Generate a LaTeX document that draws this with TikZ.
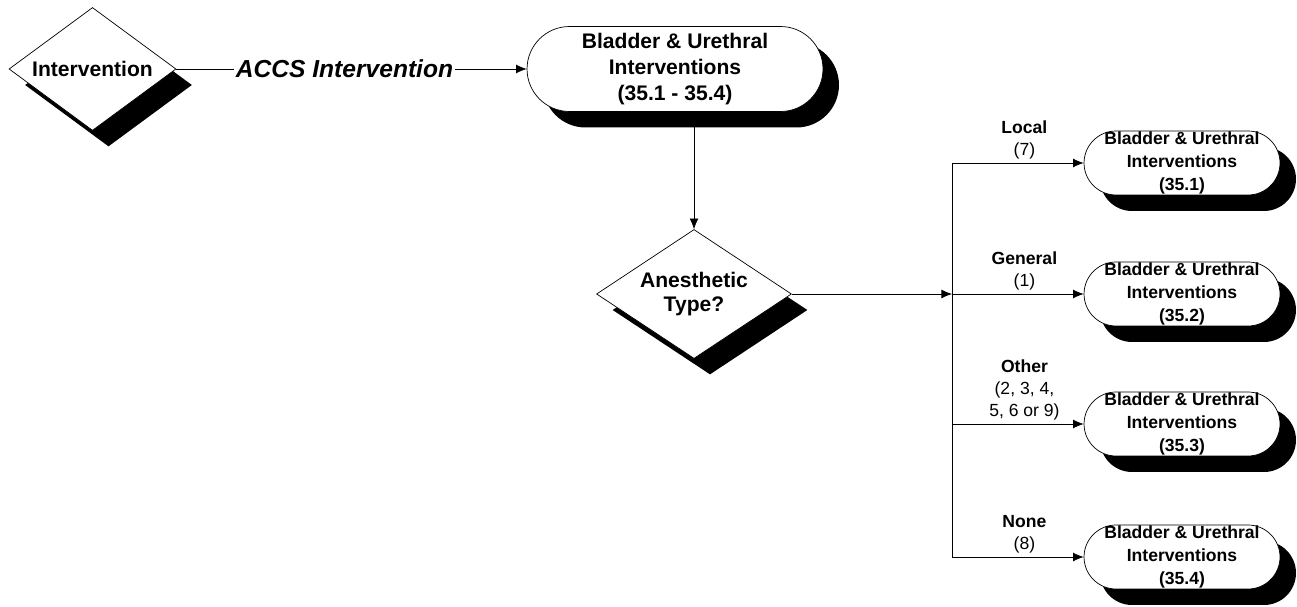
\documentclass[tikz,border=0pt]{standalone}
\usepackage{fontspec}
\setmainfont{Liberation Sans}
\usetikzlibrary{positioning,shapes.geometric,shadows,arrows.meta}
\tikzset{>={Latex[length=6pt,width=5pt]}}
\tikzset{
  blackshadow/.style={general shadow={shadow xshift=0.32cm,shadow yshift=-0.32cm,fill=black}},
  decision/.style={diamond,draw,fill=white,inner sep=0pt,align=center,
    font=\bfseries\fontsize{12}{14}\selectfont,blackshadow},
  terminal/.style={rectangle,draw,fill=white,rounded corners=0.64cm,inner sep=0pt,align=center,
    minimum width=3.92cm,minimum height=1.28cm,font=\bfseries\fontsize{10}{13}\selectfont,blackshadow},
  branchlabel/.style={align=center,font=\fontsize{10}{12.5}\selectfont,inner sep=2pt}
}
\def\branch#1#2#3{
  \draw [->] (#1.west -| split) -- node [branchlabel,above,pos=.55] {\textbf{#2}\\#3} (#1.west);
}

\begin{document}
\begin{tikzpicture}[x=0.02cm,y=-0.02cm]
\useasboundingbox (0,0) rectangle (1297,607);
\node[decision,shape aspect=1.36,minimum width=3.34cm,minimum height=2.46cm] (intv) at (92.5,69) {Intervention};
\node[terminal,minimum width=5.92cm,minimum height=1.7cm,rounded corners=0.85cm,
  font=\bfseries\fontsize{12}{15}\selectfont] (all) at (675,69)
  {Bladder \& Urethral\\Interventions\\(35.1 - 35.4)};
\node[decision,shape aspect=1.51,minimum width=3.9cm,minimum height=2.58cm] (type) at (694,294) {Anesthetic\\Type?};
\coordinate (split) at (952,294);
\node[terminal] (t1) at (1182,163) {Bladder \& Urethral\\Interventions\\(35.1)};
\node[terminal] (t2) at (1182,294) {Bladder \& Urethral\\Interventions\\(35.2)};
\node[terminal] (t3) at (1182,424) {Bladder \& Urethral\\Interventions\\(35.3)};
\node[terminal] (t4) at (1182,557) {Bladder \& Urethral\\Interventions\\(35.4)};
\draw [->] (intv.east) -- node [fill=white,inner sep=1pt,pos=.48,
  font=\bfseries\itshape\fontsize{14}{16}\selectfont] {ACCS Intervention} (all.west);
\draw [->] (type.north |- all.south) -- (type.north);
\draw [->] (type.east) -- (split);
\draw (t1.west -| split) -- (t4.west -| split);
\branch{t1}{Local}{(7)}
\branch{t2}{General}{(1)}
\branch{t3}{Other}{(2, 3, 4,\\5, 6 or 9)}
\branch{t4}{None}{(8)}
\end{tikzpicture}
\end{document}
